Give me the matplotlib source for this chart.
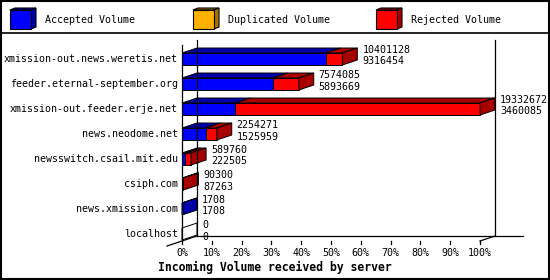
import matplotlib.pyplot as plt
from matplotlib.patches import Polygon, Rectangle
import numpy as np

servers = ["xmission-out.news.weretis.net", "feeder.eternal-september.org",
           "xmission-out.feeder.erje.net", "news.neodome.net",
           "newsswitch.csail.mit.edu", "csiph.com", "news.xmission.com", "localhost"]
total = np.array([10401128, 7574085, 19332672, 2254271, 589760, 90300, 1708, 0])
accepted = np.array([9316454, 5893669, 3460085, 1525959, 222505, 87263, 1708, 0])
duplicated = np.zeros(len(servers), dtype=int)
rejected = total - accepted - duplicated
series = ["Accepted Volume", "Duplicated Volume", "Rejected Volume"]
pct = np.arange(0, 101, 10)

front = ["#0000ff", "#ffb000", "#ff0000"]
dark = ["#0000a8", "#a87400", "#a80000"]
MONO = "DejaVu Sans Mono"
FS = 7.2

W, H = 550, 280
fig = plt.figure(figsize=(W / 100, H / 100), dpi=100)

# pixel overlay for border, legend, title
bg = fig.add_axes([0, 0, 1, 1])
bg.set_xlim(0, W)
bg.set_ylim(H, 0)
bg.axis("off")
bg.add_patch(Rectangle((1, 1), W - 2, H - 2, fill=False, ec="black", lw=1.5))
bg.plot([0, W], [33, 33], color="black", lw=1.2)

for k, (name, fc, dc) in enumerate(zip(series, front, dark)):
    x = 10 + 183 * k
    bg.add_patch(Polygon([(x, 10), (x + 5, 8), (x + 26, 8), (x + 21, 10)], fc=dc, ec="black", lw=0.8))
    bg.add_patch(Polygon([(x + 21, 10), (x + 26, 8), (x + 26, 27), (x + 21, 29)], fc=dc, ec="black", lw=0.8))
    bg.add_patch(Rectangle((x, 10), 21, 19, fc=fc, ec="black", lw=0.8))
    bg.text(x + 35, 20, name, family=MONO, fontsize=FS, va="center", ha="left")

bg.text(275, 267, "Incoming Volume received by server", family=MONO, fontsize=8.3,
        weight="bold", ha="center", va="center")

# chart axes: front plane of the bars, x in volume units
X0, X1, Y0, Y1 = 182, 480, 40, 240
ax = fig.add_axes([X0 / W, 1 - Y1 / H, (X1 - X0) / W, (Y1 - Y0) / H])
vmax = total.max()
n = len(servers)
ax.set_xlim(0, vmax)
ax.set_ylim(n - 0.76, -0.76)
ax.axis("off")

ux = vmax / (X1 - X0)   # one pixel in x data units
uy = 1 / 25             # one pixel in row units
DX, DY = 15 * ux, -5 * uy
base = (241 - Y0) * uy - 0.76
floor = base + DY
top = -0.76
kw = dict(color="black", lw=0.9, clip_on=False)

ax.plot([DX, DX], [top, floor], **kw)
ax.plot([vmax + DX, vmax + DX], [top, floor], **kw)
ax.plot([DX, vmax + DX + 28 * ux], [floor, floor], **kw)
ax.plot([0, 0], [top + 5 * uy, base], **kw)
ax.plot([-DX, DX], [base - DY, floor], **kw)
ax.plot([vmax, vmax + DX], [base, floor], **kw)
for p in pct:
    xv = p / 100 * vmax
    ax.plot([xv, xv], [base, base + 3 * uy], **kw)
    ax.text(xv, base + 12 * uy, f"{p}%", family=MONO, fontsize=FS, ha="center", va="center")

h = 12 * uy
for i in range(n):
    t, b = i - h / 2, i + h / 2
    edges = np.cumsum([0, accepted[i], duplicated[i], rejected[i]])
    last = None
    for k in range(3):
        x0, x1 = edges[k], edges[k + 1]
        if x1 <= x0:
            continue
        ax.add_patch(Polygon([(x0, t), (x0 + DX, t + DY), (x1 + DX, t + DY), (x1, t)],
                             fc=dark[k], ec="black", lw=0.7, clip_on=False))
        ax.add_patch(Rectangle((x0, t), x1 - x0, h, fc=front[k], ec="black", lw=0.7, clip_on=False))
        last = k
    xe = total[i]
    side = dark[last] if last is not None else "white"
    ax.add_patch(Polygon([(xe, t), (xe + DX, t + DY), (xe + DX, b + DY), (xe, b)],
                         fc=side, ec="black", lw=0.7, clip_on=False))
    ax.text(xe + DX + 5 * ux, i - 9 * uy, str(total[i]), family=MONO, fontsize=FS, va="center")
    ax.text(xe + DX + 5 * ux, i + 2.5 * uy, str(accepted[i]), family=MONO, fontsize=FS, va="center")
    ax.text(-4 * ux, i, servers[i], family=MONO, fontsize=FS, ha="right", va="center")

fig.savefig("out.png", dpi=100)
